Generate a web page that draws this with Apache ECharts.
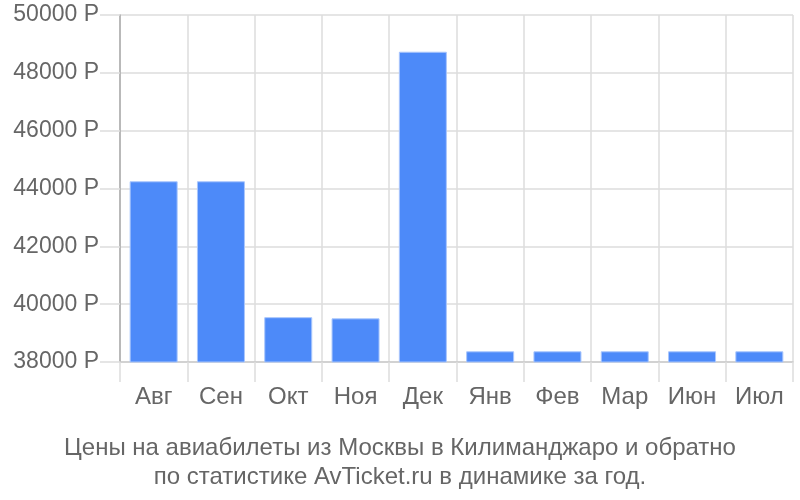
<!DOCTYPE html>
<html>
<head>
<meta charset="utf-8">
<script src="https://cdn.jsdelivr.net/npm/echarts@6/dist/echarts.min.js"></script>
<style>html,body{margin:0;padding:0;background:#fff;}#c{width:800px;height:500px;}</style>
</head>
<body>
<div id="c"></div>
<script>
const categories = ['Авг','Сен','Окт','Ноя','Дек','Янв','Фев','Мар','Июн','Июл'];
const prices = [44250, 44250, 39550, 39510, 48730, 38370, 38370, 38370, 38370, 38370];
const titleLines = ['Цены на авиабилеты из Москвы в Килиманджаро и обратно', 'по статистике AvTicket.ru в динамике за год.'];

const chart = echarts.init(document.getElementById('c'), null, {renderer: 'canvas'});
chart.setOption({
  animation: false,
  backgroundColor: '#fff',
  textStyle: {fontFamily: 'Liberation Sans, Arial, sans-serif'},
  title: {
    text: titleLines.join('\n'),
    left: 'center',
    top: 429,
    textStyle: {fontSize: 24, fontWeight: 'normal', color: '#666', lineHeight: 29, fontFamily: 'Liberation Sans, Arial, sans-serif'}
  },
  grid: {left: 120, right: 7, top: 15, bottom: 138, containLabel: false},
  xAxis: {
    type: 'category',
    data: categories,
    axisLine: {show: true, lineStyle: {color: '#ccc', width: 1.5}},
    axisTick: {show: true, length: 20, lineStyle: {color: '#ddd', width: 1.5}},
    splitLine: {show: true, lineStyle: {color: '#ddd', width: 1.5}},
    axisLabel: {fontSize: 24, color: '#666', margin: 23}
  },
  yAxis: {
    type: 'value',
    min: 38000,
    max: 50000,
    interval: 2000,
    axisLine: {show: true, lineStyle: {color: '#aaa', width: 1.5}},
    axisTick: {show: true, length: 20, lineStyle: {color: '#ddd', width: 1.5}},
    splitLine: {show: true, lineStyle: {color: '#ddd', width: 1.5}},
    axisLabel: {fontSize: 23, color: '#666', margin: 21, formatter: function (v) { return v + ' Р'; }}
  },
  series: [{
    type: 'bar',
    data: prices,
    barWidth: 48,
    itemStyle: {color: '#4d8af9', borderColor: '#a9c6fc', borderWidth: 1}
  }]
});
</script>
</body>
</html>
